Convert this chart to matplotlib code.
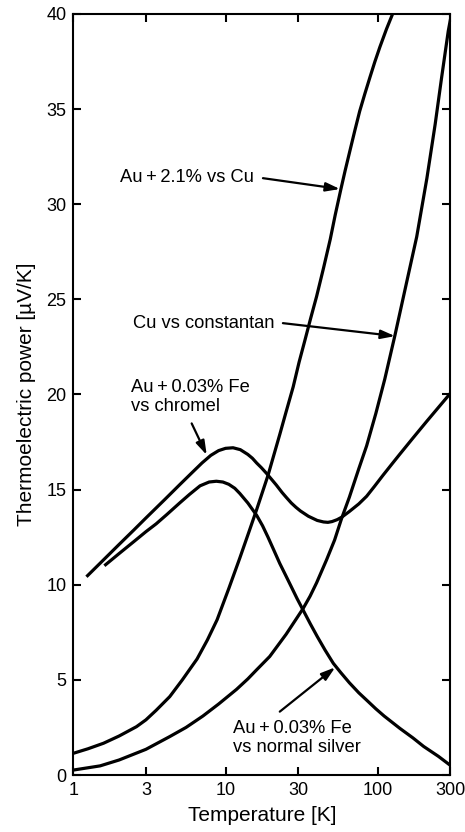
import matplotlib
matplotlib.use("Agg")
import matplotlib.pyplot as plt
from matplotlib.ticker import NullLocator

plt.rcParams['font.family'] = ['Liberation Sans', 'DejaVu Sans']

# Au + 2.1% vs Cu
t_au_cu = [1.0, 1.25, 1.58, 2.0, 2.6, 3.0, 3.5, 4.3, 5.2, 6.5, 7.6, 8.8, 10.5,
           12.4, 14.2, 16.0, 19.0, 22.7, 24.9, 27.8, 30.4, 33.2, 36.2, 39.6,
           44.0, 48.7, 52.5, 57.0, 61.0, 65.7, 70.7, 76.0, 82.2, 88.8, 95.6,
           103.1, 114.0, 126.0]
s_au_cu = [1.14, 1.38, 1.67, 2.05, 2.54, 2.9, 3.4, 4.12, 5.0, 6.1, 7.1, 8.16,
           9.8, 11.4, 12.75, 13.95, 15.75, 17.9, 19.05, 20.4, 21.7, 22.85, 24.0,
           25.15, 26.65, 28.16, 29.44, 30.74, 31.77, 32.84, 33.89, 34.89, 35.81,
           36.68, 37.49, 38.26, 39.21, 40.07]

# Cu vs constantan
t_cu_con = [1.0, 1.5, 2.0, 3.0, 4.3, 5.5, 7.1, 9.0, 11.8, 14.0, 16.0, 19.5,
            25.0, 32.3, 35.9, 39.6, 46.0, 52.0, 57.9, 65.0, 75.0, 84.4, 97.0,
            111.0, 129.6, 154.0, 180.0, 210.0, 238.0, 262.0, 290.0, 300.0]
s_cu_con = [0.26, 0.48, 0.79, 1.35, 2.02, 2.5, 3.1, 3.73, 4.5, 5.05, 5.53, 6.23,
            7.4, 8.75, 9.4, 10.1, 11.3, 12.35, 13.5, 14.6, 16.1, 17.3, 19.0,
            20.8, 23.12, 25.84, 28.29, 31.37, 34.21, 36.63, 39.1, 39.73]

# Au + 0.03% Fe vs chromel
t_fe_chr = [1.22, 1.5, 2.0, 2.5, 3.0, 4.0, 5.0, 6.0, 7.0, 8.0, 9.0, 10.0, 11.2,
            12.5, 14.0, 15.0, 16.0, 17.2, 18.6, 20.0, 21.5, 23.5, 25.0, 27.0,
            29.0, 31.0, 35.0, 40.0, 44.0, 47.0, 50.0, 54.0, 57.9, 65.0, 75.0,
            84.4, 95.0, 108.0, 125.0, 139.0, 170.0, 210.0, 250.0, 300.0]
s_fe_chr = [10.42, 11.13, 12.12, 12.88, 13.51, 14.49, 15.26, 15.88, 16.4, 16.8,
            17.05, 17.17, 17.2, 17.1, 16.85, 16.65, 16.4, 16.15, 15.85, 15.55,
            15.25, 14.85, 14.6, 14.3, 14.07, 13.88, 13.6, 13.38, 13.3, 13.28,
            13.32, 13.42, 13.55, 13.85, 14.25, 14.65, 15.17, 15.75, 16.39, 16.85,
            17.71, 18.6, 19.32, 20.07]

# Au + 0.03% Fe vs normal silver
t_fe_ag = [1.6, 2.0, 2.5, 3.0, 3.5, 4.1, 5.0, 5.8, 6.8, 7.8, 8.7, 9.6, 10.5,
           11.5, 12.4, 14.0, 16.0, 17.5, 19.0, 20.8, 22.7, 24.8, 27.0, 29.5,
           32.3, 36.0, 40.0, 45.0, 51.0, 57.0, 65.0, 75.0, 84.3, 97.0, 110.0,
           139.6, 170.0, 200.0, 250.0, 300.0]
s_fe_ag = [11.0, 11.64, 12.27, 12.79, 13.2, 13.68, 14.3, 14.75, 15.2, 15.4,
           15.44, 15.4, 15.28, 15.07, 14.8, 14.3, 13.65, 13.1, 12.5, 11.8,
           11.12, 10.5, 9.9, 9.27, 8.67, 7.95, 7.28, 6.57, 5.87, 5.39, 4.85,
           4.32, 3.94, 3.48, 3.1, 2.45, 1.95, 1.5, 0.98, 0.5]

x_ticks = [1, 3, 10, 30, 100, 300]
x_tick_labels = ['1', '3', '10', '30', '100', '300']
y_ticks = [0, 5, 10, 15, 20, 25, 30, 35, 40]

fig = plt.figure(figsize=(4.65, 8.32), dpi=100)
ax = fig.add_axes([0.1576, 0.0685, 0.8112, 0.9147])

for t, s in [(t_au_cu, s_au_cu), (t_cu_con, s_cu_con),
             (t_fe_chr, s_fe_chr), (t_fe_ag, s_fe_ag)]:
    ax.plot(t, s, color='black', lw=2.3, solid_capstyle='butt',
            solid_joinstyle='round')

ax.set_xscale('log')
ax.set_xlim(1, 300)
ax.set_ylim(0, 40)
ax.set_xticks(x_ticks)
ax.set_xticklabels(x_tick_labels)
ax.xaxis.set_minor_locator(NullLocator())
ax.set_yticks(y_ticks)

for sp in ax.spines.values():
    sp.set_linewidth(1.5)

ax.tick_params(axis='both', which='major', direction='in', length=6, width=1.5,
               labelsize=13, top=True, right=True, pad=5)

ax.set_xlabel('Temperature [K]', fontsize=15, labelpad=5)
ax.set_ylabel('Thermoelectric power [µV/K]', fontsize=15, labelpad=7)

arrow = dict(arrowstyle='-|>,head_length=0.7,head_width=0.22', color='black',
             lw=1.6, mutation_scale=12, shrinkA=0, shrinkB=0)
fs = 13.2

ax.text(2.03, 31.4, 'Au\u2009+\u20092.1% vs Cu', fontsize=fs, ha='left', va='center')
ax.annotate('', xy=(56.4, 30.8), xytext=(17.6, 31.37), arrowprops=arrow)

ax.text(2.47, 23.75, 'Cu vs constantan', fontsize=fs, ha='left', va='center')
ax.annotate('', xy=(129.6, 23.07), xytext=(23.8, 23.75), arrowprops=arrow)

ax.text(2.39, 19.86, 'Au\u2009+\u20090.03% Fe\nvs chromel', fontsize=fs,
        ha='left', va='center', linespacing=1.2)
ax.annotate('', xy=(7.52, 16.82), xytext=(5.99, 18.48), arrowprops=arrow)

ax.text(11.24, 1.94, 'Au\u2009+\u20090.03% Fe\nvs normal silver', fontsize=fs,
        ha='left', va='center', linespacing=1.2)
ax.annotate('', xy=(52.5, 5.66), xytext=(22.7, 3.33), arrowprops=arrow)

fig.savefig('out.png', dpi=100)
